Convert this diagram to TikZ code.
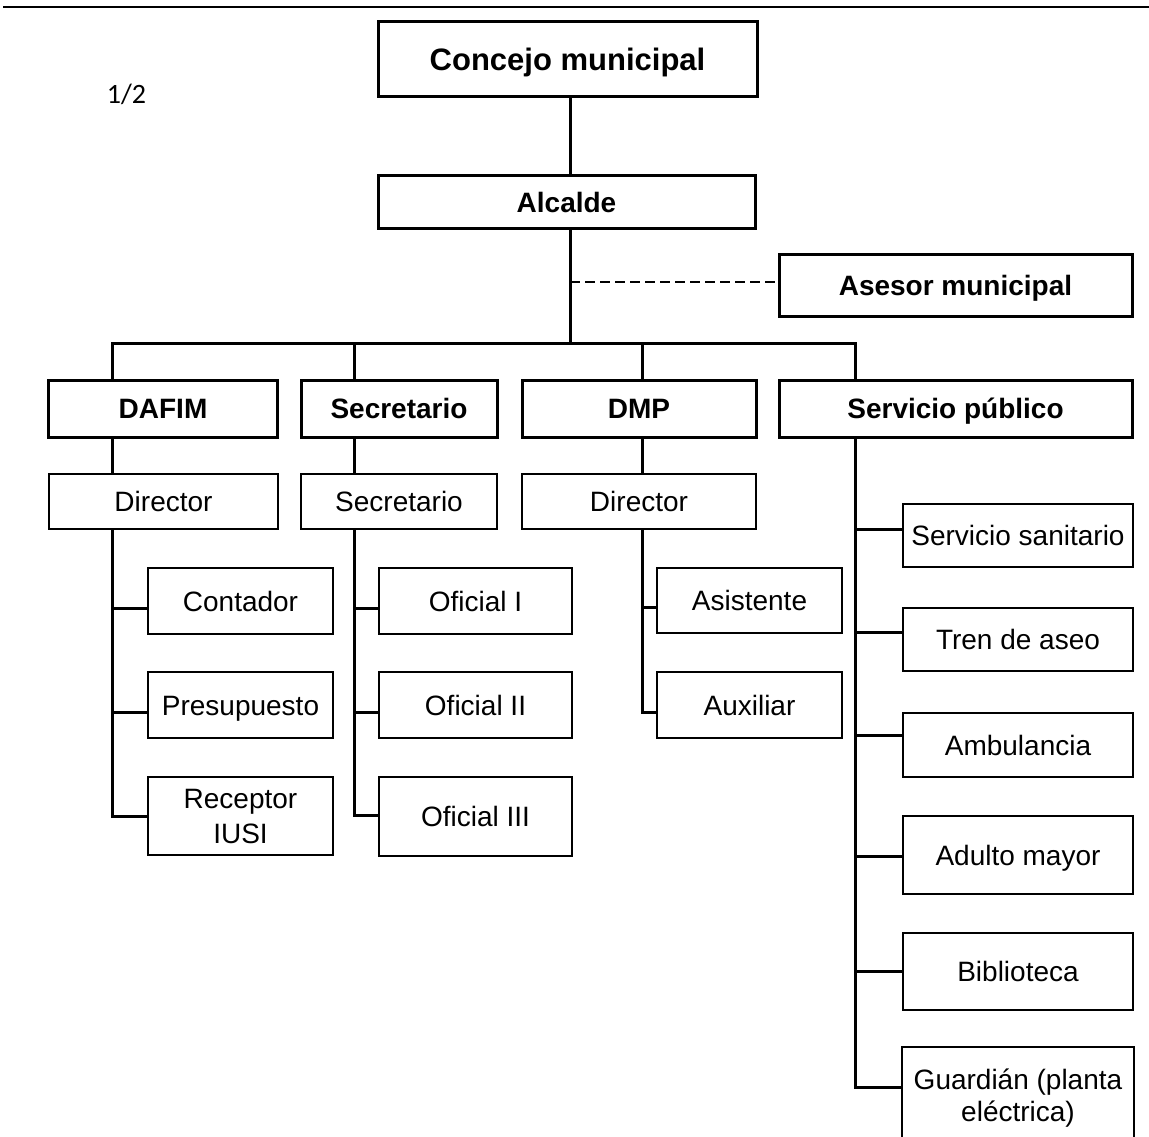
\documentclass[tikz,border=0pt]{standalone}
\usepackage{fontspec}
\setmainfont{Liberation Sans}
\newfontfamily\calfont{Carlito}
\begin{document}
\begin{tikzpicture}[x=1pt,y=-1pt,
  boldbox/.style={draw, line width=3pt, inner sep=0pt, align=center,
    text height=20pt, text depth=0pt,
    font=\fontsize{28}{32}\selectfont\bfseries},
  thinbase/.style={draw, line width=2.2pt, inner sep=0pt, align=center,
    font=\fontsize{28}{32}\selectfont},
  thinbox/.style={thinbase, text height=20pt, text depth=0pt},
  link/.style={line width=3pt},
  dashlink/.style={line width=2.5pt, dash pattern=on 10pt off 5pt}]
\useasboundingbox (0,0) rectangle (1149,1137);
% top rule
\coordinate (ruleL) at (3,7);
\coordinate (ruleR) at (1149,7);
\draw[line width=2pt] (ruleL) -- (ruleR);
\node[font=\calfont\fontsize{28}{32}\selectfont, anchor=base, inner sep=0pt] (page) at (126.5,104) {1/2};

% top levels
\node[boldbox, minimum width=379pt, minimum height=75pt, text height=22pt, font=\fontsize{31}{35}\selectfont\bfseries] (concejo) at (567.5,59.5) {Concejo municipal};
\node[boldbox, minimum width=377pt, minimum height=52pt] (alcalde) at (566.5,202) {Alcalde};
\node[boldbox, minimum width=353pt, minimum height=62pt] (asesor) at (955.5,285) {Asesor municipal};

\coordinate (tk) at (570,343);
\coordinate (b1) at (112,343);
\coordinate (b2) at (354,343);
\coordinate (b3) at (642,343);
\coordinate (b4) at (855,343);

% level 1
\node[boldbox, minimum width=229pt, minimum height=57pt] (dafim) at (163,408.5) {DAFIM};
\node[boldbox, minimum width=196pt, minimum height=57pt] (sec1) at (399,408.5) {Secretario};
\node[boldbox, minimum width=234pt, minimum height=57pt] (dmp) at (639,408.5) {DMP};
\node[boldbox, minimum width=353pt, minimum height=57pt] (serv) at (955.5,408.5) {Servicio público};

% level 2
\node[thinbox, minimum width=229pt, minimum height=55pt] (dir1) at (163.5,501.5) {Director};
\node[thinbox, minimum width=196pt, minimum height=55pt] (sec2) at (399,501.5) {Secretario};
\node[thinbox, minimum width=234pt, minimum height=55pt] (dir2) at (639,501.5) {Director};

% DAFIM children
\node[thinbox, minimum width=185pt, minimum height=66pt] (contador) at (240.5,601) {Contador};
\node[thinbox, minimum width=185pt, minimum height=66pt] (presup) at (240.5,705) {Presupuesto};
\node[thinbase, minimum width=185pt, minimum height=78pt, font=\fontsize{28}{35}\selectfont] (receptor) at (240.5,816) {Receptor\\IUSI};

% Secretario children
\node[thinbox, minimum width=193pt, minimum height=66pt] (of1) at (475.5,601) {Oficial I};
\node[thinbox, minimum width=193pt, minimum height=66pt] (of2) at (475.5,705) {Oficial II};
\node[thinbox, minimum width=193pt, minimum height=79pt] (of3) at (475.5,816.5) {Oficial III};

% DMP children
\node[thinbox, minimum width=185pt, minimum height=65pt] (asist) at (749.5,600.5) {Asistente};
\node[thinbox, minimum width=185pt, minimum height=66pt] (aux) at (749.5,705) {Auxiliar};

% Servicio children
\node[thinbox, minimum width=230pt, minimum height=63pt] (sanit) at (1018,535.5) {Servicio sanitario};
\node[thinbox, minimum width=230pt, minimum height=63pt] (tren) at (1018,639.5) {Tren de aseo};
\node[thinbox, minimum width=230pt, minimum height=64pt] (ambu) at (1018,745) {Ambulancia};
\node[thinbox, minimum width=230pt, minimum height=78pt] (adulto) at (1018,855) {Adulto mayor};
\node[thinbox, minimum width=230pt, minimum height=77pt] (biblio) at (1018,971.5) {Biblioteca};
\node[thinbase, draw=none, minimum width=230pt, minimum height=100pt] (guard) at (1018,1098) {Guardián (planta\\eléctrica)};
\draw[line width=2.2pt] (guard.south west) -- (guard.north west) -- (guard.north east) -- (guard.south east);

% connectors top
\draw[link] (concejo.south -| tk) -- (alcalde.north -| tk);
\draw[link] (alcalde.south -| tk) -- (tk);
\draw[dashlink] ([yshift=3pt]asesor.west -| tk) -- ([yshift=3pt]asesor.west);
\draw[link] (dafim.north -| b1) -- (b1) -- (b4) -- (serv.north -| b4);
\draw[link] (b2) -- (sec1.north -| b2);
\draw[link] (b3) -- (dmp.north -| b3);

% level 1 -> level 2
\draw[link] (dafim.south -| b1) -- (dir1.north -| b1);
\draw[link] (sec1.south -| b2) -- (sec2.north -| b2);
\draw[link] (dmp.south -| b3) -- (dir2.north -| b3);

% DAFIM children
\draw[link] (dir1.south -| b1) |- (receptor.west);
\draw[link] (dir1.south -| b1) |- ([yshift=-7pt]contador.west);
\draw[link] (dir1.south -| b1) |- ([yshift=-7pt]presup.west);

% Secretario children
\draw[link] (sec2.south -| b2) |- ([yshift=1pt]of3.west);
\draw[link] (sec2.south -| b2) |- ([yshift=-7pt]of1.west);
\draw[link] (sec2.south -| b2) |- ([yshift=-7pt]of2.west);

% DMP children
\draw[link] (dir2.south -| b3) |- ([yshift=-7pt]aux.west);
\draw[link] (dir2.south -| b3) |- ([yshift=-6.5pt]asist.west);

% Servicio children
\draw[link] (serv.south -| b4) |- ([yshift=11pt]guard.west);
\draw[link] (serv.south -| b4) |- ([yshift=6.5pt]sanit.west);
\draw[link] (serv.south -| b4) |- ([yshift=7.5pt]tren.west);
\draw[link] (serv.south -| b4) |- ([yshift=9.5pt]ambu.west);
\draw[link] (serv.south -| b4) |- ([yshift=-1pt]adulto.west);
\draw[link] (serv.south -| b4) |- (biblio.west);
\end{tikzpicture}
\end{document}
